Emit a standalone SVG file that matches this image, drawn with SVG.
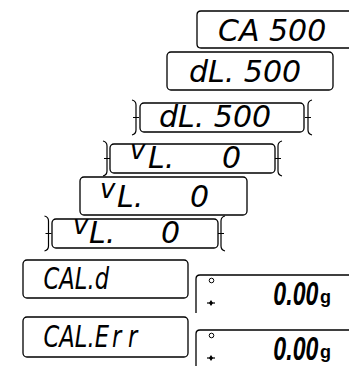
<svg xmlns="http://www.w3.org/2000/svg" width="349" height="366" viewBox="0 0 349 366">
<style>
.bx{fill:none;stroke:#000;stroke-width:1.3}
.seg{font-family:"DejaVu Sans",sans-serif;font-style:oblique;font-size:30px;fill:#000}
.segn{font-family:"DejaVu Sans",sans-serif;font-style:oblique;font-size:31px;fill:#000}
.dig{font-family:"Liberation Sans",Arial,sans-serif;font-style:italic;font-weight:bold;font-size:34px;fill:#000}
.unit{font-family:"Liberation Sans",Arial,sans-serif;font-weight:bold;font-size:18px;fill:#000}
.v{font-size:26px}
</style>
<defs>
<path id="brk" d="M-4,-3 Q0,-2 0,2 V27 Q0,31 -4,32 M-3,14.5 H3" fill="none" stroke="#000" stroke-width="1.2"/>
<g id="stab"><path d="M-4,0 H4" stroke="#000" stroke-width="1.2"/><path d="M0,-3 L2,0 L0,3 L-2,0 Z" fill="#000"/></g>
</defs>
<g id="n1">
<path class="bx" d="M349,11 H201 Q197,11 197,15 V44 Q197,48 201,48 H349"/>
<text class="seg" x="218" y="41">CA 500</text>
</g>
<g id="n2">
<rect class="bx" x="167" y="52" width="166" height="38" rx="4"/>
<text class="seg" x="189" y="82">dL. 500</text>
</g>
<g id="n3">
<rect class="bx" x="140" y="103" width="164" height="29" rx="4"/>
<use href="#brk" x="136" y="103"/>
<use href="#brk" transform="translate(308,103) scale(-1,1)"/>
<text class="seg" x="159" y="127">dL. 500</text>
</g>
<g id="n4">
<rect class="bx" x="110" y="144" width="165" height="29" rx="4"/>
<use href="#brk" x="107" y="144"/>
<use href="#brk" transform="translate(278,144) scale(-1,1)"/>
<text class="seg"><tspan class="v" x="130" y="159">v</tspan><tspan x="148" y="168">L.</tspan> <tspan x="222">0</tspan></text>
</g>
<g id="n5">
<rect class="bx" x="80" y="177" width="167" height="38" rx="4"/>
<text class="seg"><tspan class="v" x="100" y="198">v</tspan><tspan x="117" y="207">L.</tspan> <tspan x="190">0</tspan></text>
</g>
<g id="n6">
<rect class="bx" x="52" y="219" width="166" height="29" rx="4"/>
<use href="#brk" x="48.5" y="219"/>
<use href="#brk" transform="translate(221,219) scale(-1,1)"/>
<text class="seg"><tspan class="v" x="73" y="234">v</tspan><tspan x="89" y="243">L.</tspan> <tspan x="161">0</tspan></text>
</g>
<g id="n7">
<rect class="bx" x="23" y="260" width="165" height="38" rx="4"/>
<text class="segn" transform="scale(0.73,1)" x="59.7" y="289">CAL.d</text>
</g>
<g id="n8">
<path class="bx" d="M196,313 V279 Q196,275 200,275 H349"/>
<circle cx="211.5" cy="280.5" r="2.3" fill="none" stroke="#000" stroke-width="1"/>
<use href="#stab" x="211" y="303"/>
<text class="dig" transform="scale(0.68,1)" x="402" y="305">0.00</text>
<text class="unit" x="320" y="303">g</text>
</g>
<g id="n9">
<rect class="bx" x="23" y="317" width="165" height="40" rx="4"/>
<text class="segn" transform="scale(0.73,1)" y="347"><tspan x="59.7">CAL.E</tspan><tspan x="153.4">r</tspan><tspan x="175.3">r</tspan></text>
</g>
<g id="n10">
<path class="bx" d="M196,366 V334 Q196,330 200,330 H349"/>
<circle cx="211.5" cy="335.5" r="2.3" fill="none" stroke="#000" stroke-width="1"/>
<use href="#stab" x="211" y="358"/>
<text class="dig" transform="scale(0.68,1)" x="402" y="360">0.00</text>
<text class="unit" x="320" y="358">g</text>
</g>
<g id="connectors"/>
</svg>
